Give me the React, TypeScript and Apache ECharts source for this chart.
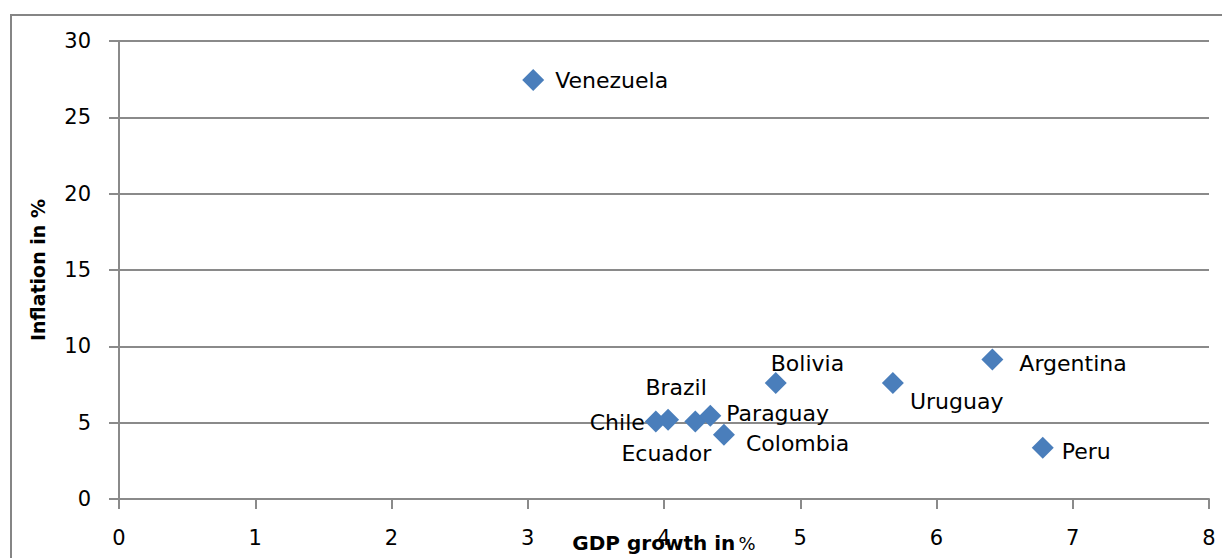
import React, { useEffect, useRef } from "react";
import * as echarts from "echarts";

const countries = ["Venezuela", "Chile", "Brazil", "Ecuador", "Paraguay", "Colombia", "Bolivia", "Uruguay", "Argentina", "Peru"];
const gdpGrowth = [3.04, 3.94, 4.03, 4.23, 4.34, 4.44, 4.82, 5.68, 6.41, 6.78];
const inflation = [27.45, 5.08, 5.19, 5.08, 5.45, 4.21, 7.6, 7.6, 9.13, 3.36];
const xTicks = [0, 1, 2, 3, 4, 5, 6, 7, 8];
const yTicks = [0, 5, 10, 15, 20, 25, 30];

// label placement (styling only)
const labelStyle: Record<string, { align: string; offset: [number, number] }> = {
  Venezuela: { align: "left", offset: [22, 1] },
  Chile: { align: "right", offset: [-11, 1] },
  Brazil: { align: "center", offset: [8, -32] },
  Ecuador: { align: "center", offset: [-29, 32] },
  Paraguay: { align: "left", offset: [16, -2] },
  Colombia: { align: "left", offset: [22, 9] },
  Bolivia: { align: "left", offset: [-5, -19] },
  Uruguay: { align: "left", offset: [17, 19] },
  Argentina: { align: "left", offset: [27, 4] },
  Peru: { align: "left", offset: [19, 4] },
};

export default function App() {
  const ref = useRef<HTMLDivElement>(null);
  useEffect(() => {
    document.body.style.margin = "0";
    const chart = echarts.init(ref.current!, null, { renderer: "svg" });
    const gray = "#8a8a8a";
    const data = countries.map((c, i) => ({
      name: c,
      value: [gdpGrowth[i], inflation[i]],
      label: {
        show: true,
        position: "inside",
        formatter: c,
        align: labelStyle[c].align,
        verticalAlign: "middle",
        offset: labelStyle[c].offset,
      },
    }));
    chart.setOption({
      animation: false,
      backgroundColor: "#ffffff",
      graphic: [
        {
          type: "rect",
          shape: { x: 11, y: 15, width: 1230, height: 570 },
          style: { fill: "none", stroke: "#858585", lineWidth: 2 },
          silent: true,
          z: -1,
        },
      ],
      grid: { left: 119, right: 13, top: 41, bottom: 59, containLabel: false, outerBoundsMode: "none" },
      xAxis: {
        type: "value",
        min: xTicks[0],
        max: xTicks[xTicks.length - 1],
        interval: 1,
        name: "{b|GDP growth in} {n|%}",
        nameLocation: "middle",
        nameGap: 34,
        nameMoveOverlap: false,
        nameTextStyle: {
          rich: {
            b: { fontFamily: "DejaVu Sans", fontWeight: "bold", fontSize: 20, color: "#000" },
            n: { fontFamily: "DejaVu Sans", fontSize: 18, color: "#000" },
          },
        },
        axisLine: { show: true, onZero: false, lineStyle: { color: gray, width: 2 } },
        axisTick: { show: true, length: 10, lineStyle: { color: gray, width: 2 } },
        axisLabel: { margin: 28, fontFamily: "DejaVu Sans", fontSize: 21, color: "#000" },
        splitLine: { show: false },
      },
      yAxis: {
        type: "value",
        min: yTicks[0],
        max: yTicks[yTicks.length - 1],
        interval: 5,
        name: "Inflation in %",
        nameLocation: "middle",
        nameGap: 72,
        nameMoveOverlap: false,
        nameTextStyle: { fontFamily: "DejaVu Sans", fontWeight: "bold", fontSize: 19, color: "#000" },
        axisLine: { show: true, onZero: false, lineStyle: { color: gray, width: 2 } },
        axisTick: { show: true, length: 10, lineStyle: { color: gray, width: 2 } },
        axisLabel: { margin: 28, fontFamily: "DejaVu Sans", fontSize: 21, color: "#000" },
        splitLine: { show: true, lineStyle: { color: gray, width: 2 } },
      },
      series: [
        {
          type: "scatter",
          symbol: "diamond",
          symbolSize: 22,
          itemStyle: { color: "#4a7ebb", opacity: 1 },
          label: { fontFamily: "DejaVu Sans", fontSize: 22, color: "#000" },
          data,
        },
      ],
    });
    return () => chart.dispose();
  }, []);
  return <div ref={ref} style={{ width: 1222, height: 558 }} />;
}
